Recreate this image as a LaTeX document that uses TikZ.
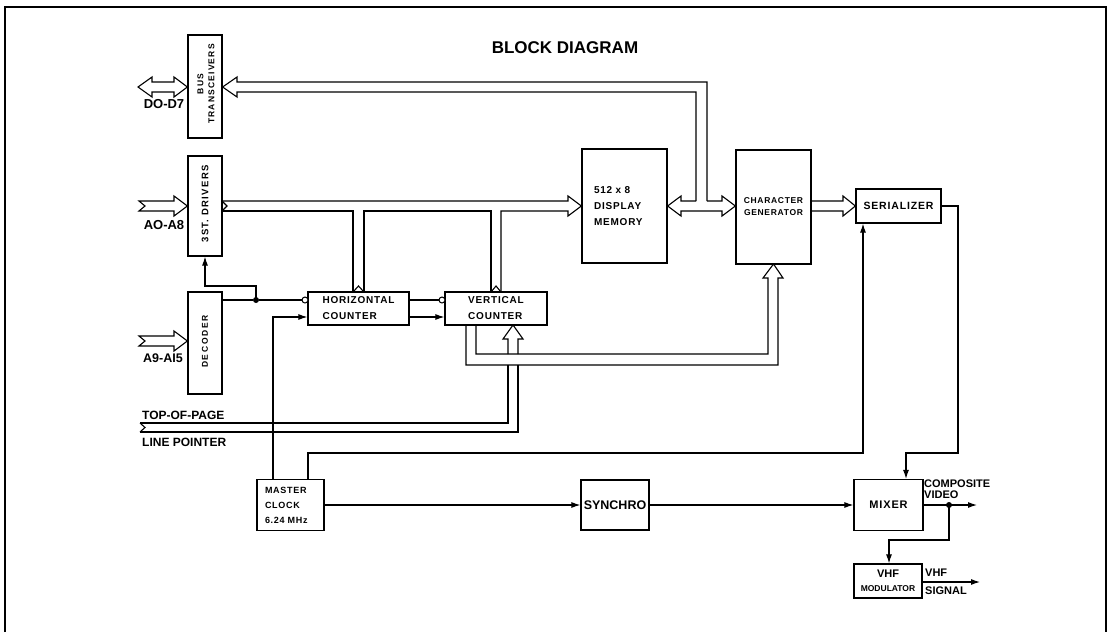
\documentclass[tikz,border=0pt]{standalone}
\usepackage{fontspec}
\setmainfont{Liberation Sans}
\newfontfamily\fntA{Liberation Sans}[LetterSpace=8]
\newfontfamily\fntB{Liberation Sans}[LetterSpace=14]
\newfontfamily\fntC{Liberation Sans}[LetterSpace=20]
\usetikzlibrary{arrows.meta,calc}
\tikzset{
 box/.style={draw, line width=1.2pt, inner sep=0pt},
 wire/.style={line width=1.1pt},
 arr/.style={wire, -{Latex[length=9pt,width=6pt]}},
 bus/.style={line width=1.1pt, line join=miter},
 bubble/.style={draw, line width=1pt, fill=white, circle, inner sep=0pt, minimum size=6pt},
 dot/.style={fill, circle, inner sep=0pt, minimum size=6pt},
 btxt/.style={font=\fntA\bfseries\fontsize{10}{16}\selectfont, align=left},
 lbl/.style={font=\bfseries\fontsize{12}{14}\selectfont, inner sep=0pt},
 rtxt/.style={rotate=90, inner sep=0pt, align=center},
}
\begin{document}
\begin{tikzpicture}[x=1pt,y=-1pt]
\useasboundingbox (0,0) rectangle (1116,632);
% frame
\draw[line width=1.5pt] (5,632) -- (5,7) -- (1106,7) -- (1106,632);
% title
\node[font=\bfseries\fontsize{17}{20}\selectfont] (title) at (565,48) {BLOCK DIAGRAM};

% boxes
\node[box, minimum width=34, minimum height=103] (bt) at (205,86.5) {};
\node[box, minimum width=34, minimum height=100] (td) at (205,206) {};
\node[box, minimum width=34, minimum height=102] (dec) at (205,343) {};
\node[rtxt, font=\fntB\bfseries\fontsize{8.5}{11}\selectfont] (btt) at (206,84) {BUS\\TRANSCEIVERS};
\node[rtxt, font=\fntB\bfseries\fontsize{9.5}{11}\selectfont] (tdt) at (205,204) {3ST. DRIVERS};
\node[rtxt, font=\fntC\bfseries\fontsize{8.5}{11}\selectfont] (dect) at (205,341.5) {DECODER};

\node[box, btxt, minimum width=101, minimum height=33] (hc) at (358.5,308.5) {HORIZONTAL\\COUNTER};
\node[box, btxt, minimum width=102, minimum height=33] (vc) at (496,308.5) {VERTICAL\\COUNTER};
\node[box, btxt, minimum height=114, text width=61pt, inner xsep=12pt] (mem) at (624.5,206) {512 x 8\\DISPLAY\\MEMORY};
\node[box, align=center, font=\fntA\bfseries\fontsize{8.5}{12}\selectfont, minimum width=75, minimum height=114] (cg) at (773.5,207) {CHARACTER\\GENERATOR};
\node[box, font=\fntA\bfseries\fontsize{10.5}{12}\selectfont, minimum width=85, minimum height=34] (ser) at (898.5,206) {SERIALIZER};
\node[box, align=left, font=\fntA\bfseries\fontsize{9}{15}\selectfont, minimum height=51, text width=51pt, inner xsep=8pt, inner ysep=0pt] (mc) at (290.5,505) {MASTER\\CLOCK\\6.24 MHz};
\node[box, font=\bfseries\fontsize{12.5}{14}\selectfont, minimum width=68, minimum height=50] (syn) at (615,505) {SYNCHRO};
\node[box, font=\fntA\bfseries\fontsize{11}{14}\selectfont, minimum width=69, minimum height=51] (mix) at (888.5,505) {MIXER};
\node[box, align=center, minimum width=68, minimum height=34] (vhf) at (888,581) {{\bfseries\fontsize{11}{13}\selectfont VHF}\\[2pt]{\bfseries\fontsize{8.5}{9}\selectfont MODULATOR}};

% labels
\node[lbl, font=\bfseries\fontsize{13}{14}\selectfont] (ld) at (164,104) {DO-D7};
\node[lbl, font=\bfseries\fontsize{13}{14}\selectfont] (la) at (164,225) {AO-A8};
\node[lbl, font=\bfseries\fontsize{12.5}{14}\selectfont] (la9) at (163,358) {A9-AI5};
\node[lbl, anchor=west] (ltop) at (142,415) {TOP-OF-PAGE};
\node[lbl, anchor=west] (lline) at (142,442) {LINE POINTER};
\node[lbl, anchor=west, align=left, font=\bfseries\fontsize{11}{11}\selectfont] (lcv) at (924,489.5) {COMPOSITE\\VIDEO};
\node[lbl, anchor=west, align=left, font=\bfseries\fontsize{11}{18}\selectfont] (lvs) at (925,582) {VHF\\SIGNAL};

% D0-D7 double arrow
\draw[bus] (138,87) -- (152,77) -- (152,82) -- (174,82) -- (174,77) -- (bt.west |- 0,87) -- (174,97) -- (174,92) -- (152,92) -- (152,97) -- cycle;
% bus from memory/chargen to bus transceivers
\draw[bus] (696,201) -- (696,92) -- (237,92) -- (237,97) -- (bt.east |- 0,87) -- (237,77) -- (237,82) -- (707,82) -- (707,201);
% memory <-> character generator
\draw[bus] (696,201) -- (681,201) -- (681,196) -- (mem.east) -- (681,216) -- (681,211) -- (722,211) -- (722,216) -- (cg.west |- 0,206) -- (722,196) -- (722,201) -- (707,201);

% A0-A8 input
\draw[bus] (139,201) -- (174,201) -- (174,196) -- (td.west) -- (174,216) -- (174,211) -- (139,211) -- (145,206) -- cycle;
% A9-A15 input
\draw[bus] (139,336) -- (174,336) -- (174,331) -- (dec.west |- 0,341) -- (174,351) -- (174,346) -- (139,346) -- (145,341) -- cycle;

% 3ST drivers address bus to memory
\draw[bus] (td.east |- 0,201) -- (568,201) -- (568,196) -- (mem.west) -- (568,216) -- (568,211) -- (501,211) -- (501,292);
\draw[bus] (491,292) -- (491,211) -- (364,211) -- (364,292);
\draw[bus] (353,292) -- (353,211) -- (td.east |- 0,211);
\draw[bus] (222,201) -- (227,206) -- (222,211);
\draw[bus] (353,292) -- (358.5,286) -- (364,292);
\draw[bus] (491,292) -- (496,286) -- (501,292);

% vertical counter to character generator
\draw[bus] (466,325) -- (466,365) -- (778,365) -- (778,278) -- (783,278) -- (cg.south |- 0,264) -- (763,278) -- (768,278) -- (768,354) -- (476,354) -- (476,325);

% top-of-page / line pointer
\draw[bus] (140,423) -- (508,423) -- (508,365);
\draw[bus] (140,432) -- (518,432) -- (518,365);
\draw[bus] (140,423) -- (145,427.5) -- (140,432);
\draw[bus] (508,354) -- (508,339) -- (503,339) -- (513,325) -- (523,339) -- (518,339) -- (518,354);

% chargen -> serializer
\draw[bus] (cg.east |- 0,201) -- (843,201) -- (843,196) -- (ser.west) -- (843,216) -- (843,211) -- (cg.east |- 0,211);

% decoder outputs
\node[dot] (d1) at (256,300) {};
\node[bubble] (b1) at (305,300) {};
\node[bubble] (b2) at (442,300) {};
\draw[wire] (dec.east |- d1) -- (d1) -- (b1.west);
\draw[arr] (d1.center) -- (256,286) -- (td.south |- 0,286) -- (td.south);
\draw[wire] (hc.east |- b2) -- (b2.west);
\draw[arr] (hc.east |- 0,317) -- (vc.west |- 0,317);

% master clock
\draw[arr] (273,0 |- mc.north) -- (273,317) -- (hc.west |- 0,317);
\draw[arr] (308,0 |- mc.north) -- (308,453) -- (863,453) -- (863,0 |- ser.south);
\draw[arr] (mc.east) -- (syn.west);
\draw[arr] (syn.east) -- (mix.west);

% serializer -> mixer
\draw[arr] (ser.east) -- (958,206) -- (958,453) -- (906,453) -- (906,0 |- mix.north);

% mixer output
\node[dot] (d2) at (949,505) {};
\draw[arr] (mix.east) -- (977,505);
\draw[arr] (d2.center) -- (949,540) -- (889,540) -- (889,0 |- vhf.north);
\draw[arr] (vhf.east |- 0,582) -- (980,582);
\end{tikzpicture}
\end{document}
